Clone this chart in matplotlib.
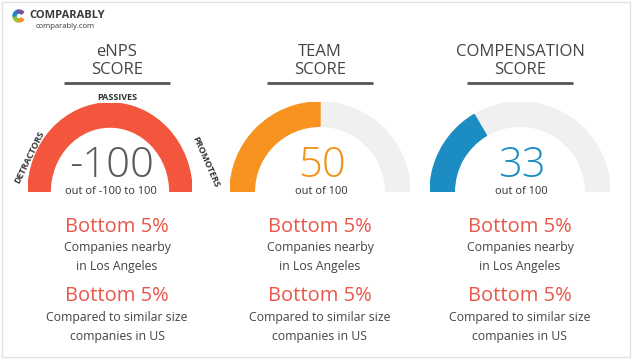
import matplotlib
matplotlib.use("Agg")
import matplotlib.pyplot as plt
from matplotlib.patches import Wedge, Rectangle

plt.rcParams['font.family'] = ['Open Sans', 'DejaVu Sans']

# chart data
titles = [["eNPS", "SCORE"], ["TEAM", "SCORE"], ["COMPENSATION", "SCORE"]]
scores = [-100, 50, 33]
score_text = ["-100", "50", "33"]
subtitles = ["out of -100 to 100", "out of 100", "out of 100"]
fill_frac = [1.0, 0.50, 0.33]   # eNPS gauge is drawn full (detractor colour)
arc_colors = ["#F4563D", "#F7931E", "#1B8DC2"]
num_colors = ["#595959", "#F0941E", "#1B8DC2"]
rank_local = ["Bottom 5%", "Bottom 5%", "Bottom 5%"]
rank_size = ["Bottom 5%", "Bottom 5%", "Bottom 5%"]
local_text = "Companies nearby\nin Los Angeles"
size_text = "Compared to similar size\ncompanies in US"
enps_labels = ["DETRACTORS", "PASSIVES", "PROMOTERS"]

W, H = 640, 360
fig = plt.figure(figsize=(6.4, 3.6), dpi=100)
bg = fig.add_axes([0, 0, 1, 1])
bg.set_xlim(0, W)
bg.set_ylim(H, 0)
bg.axis('off')

# light frame
bg.add_patch(Rectangle((2, 2), 628, 355, fill=False, edgecolor="#e2e2e2", lw=1))

# logo
logo_cols = ["#F7931E", "#8CC63F", "#1B8DC2", "#7B4EA0"]
for i, c in enumerate(logo_cols):
    bg.add_patch(Wedge((19, 16), 6, 40 + i * 70, 110 + i * 70, width=3, color=c))
bg.text(29, 16, "COMPARABLY", fontsize=8, fontweight='bold', color="#3a3a3a", va='center', ha='left')
bg.text(65, 27, "comparably.com", fontsize=5.5, color="#3a3a3a", va='center', ha='center')

col_x = [117, 320, 520]
gauge_cx = [110, 320, 520]
gauge_rx = [82, 90, 90]
gauge_ry = [89, 90, 90]
base_y = 192

for i in range(3):
    cx = col_x[i]
    bg.text(cx, 52, titles[i][0], fontsize=12, color="#444444", ha='center', va='center')
    bg.text(cx, 70, titles[i][1], fontsize=12, color="#444444", ha='center', va='center')
    bg.plot([cx - 53, cx + 53], [83, 83], color="#555555", lw=2, solid_capstyle='butt')

    # gauge
    gx, rx, ry = gauge_cx[i], gauge_rx[i], gauge_ry[i]
    ax = fig.add_axes([(gx - rx) / W, (H - base_y) / H, 2 * rx / W, ry / H])
    ax.set_xlim(-1, 1)
    ax.set_ylim(0, 1)
    ax.axis('off')
    ax.add_patch(Wedge((0, 0), 1, 0, 180, width=0.27, color="#F0F0F0"))
    end = 180 - 180 * fill_frac[i]
    ax.add_patch(Wedge((0, 0), 1, end, 180, width=0.27, color=arc_colors[i]))

    bg.text(gx + 2, 177, score_text[i], fontsize=30, color=num_colors[i], ha='center', va='baseline',
            fontweight='light')
    bg.text(gx + 1, 191, subtitles[i], fontsize=8, color="#333333", ha='center', va='center')

    bg.text(cx, 227, rank_local[i], fontsize=14.5, color="#E8574A", ha='center', va='center')
    bg.text(cx, 257, local_text, fontsize=8.8, color="#444444", ha='center', va='center',
            linespacing=1.6)
    bg.text(cx, 296, rank_size[i], fontsize=14.5, color="#E8574A", ha='center', va='center')
    bg.text(cx, 327, size_text, fontsize=8.8, color="#444444", ha='center', va='center',
            linespacing=1.6)

# eNPS category labels around the arc
bg.text(30, 157, enps_labels[0], fontsize=6.5, fontweight='bold', color="#333333",
        ha='center', va='center', rotation=64)
bg.text(117, 97, enps_labels[1], fontsize=6.5, fontweight='bold', color="#333333",
        ha='center', va='center')
bg.text(206, 162, enps_labels[2], fontsize=6.5, fontweight='bold', color="#333333",
        ha='center', va='center', rotation=-66)

fig.savefig("out.png", dpi=100)
